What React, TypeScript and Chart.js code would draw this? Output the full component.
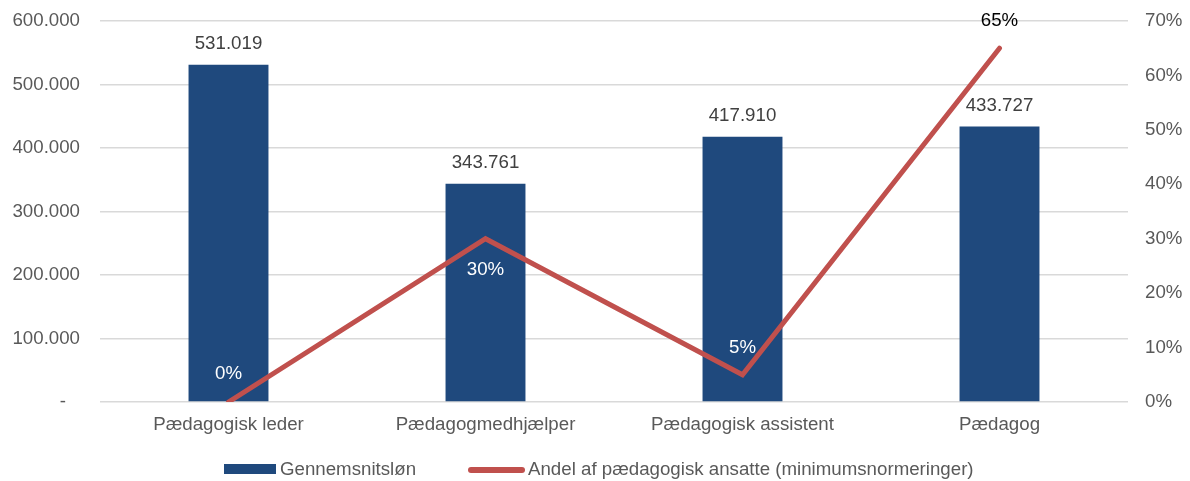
import React, { useEffect, useRef } from "react";
import { Chart, registerables } from "chart.js";

Chart.register(...registerables);

const categories = ["Pædagogisk leder", "Pædagogmedhjælper", "Pædagogisk assistent", "Pædagog"];
const salaryValues = [531019, 343761, 417910, 433727];
const shareValues = [0, 30, 5, 65];
const shareLabelOffsets = [-28, 31, -27, -27];
const shareLabelColors = ["#FFFFFF", "#FFFFFF", "#FFFFFF", "#000000"];
const salaryLabel = "Gennemsnitsløn";
const shareLabel = "Andel af pædagogisk ansatte (minimumsnormeringer)";

const BLUE = "#1F497D";
const RED = "#C0504D";
const TICK = "#595959";
const FONT = "'Liberation Sans', Arial, sans-serif";
const FS = 18.7;

function fmtThousands(v: number): string {
  return Math.round(v)
    .toString()
    .replace(/\B(?=(\d{3})+(?!\d))/g, ".");
}

const labelsPlugin = {
  id: "customLabels",
  afterDatasetsDraw(chart: any) {
    const ctx = chart.ctx;
    ctx.save();
    ctx.font = `${FS}px ${FONT}`;
    ctx.textAlign = "center";
    ctx.textBaseline = "middle";
    const barMeta = chart.getDatasetMeta(0);
    barMeta.data.forEach((el: any, i: number) => {
      ctx.fillStyle = "#404040";
      ctx.fillText(fmtThousands(salaryValues[i]), el.x, el.y - 21);
    });
    const lineMeta = chart.getDatasetMeta(1);
    lineMeta.data.forEach((el: any, i: number) => {
      ctx.fillStyle = shareLabelColors[i];
      ctx.fillText(shareValues[i] + "%", el.x, el.y + shareLabelOffsets[i]);
    });
    ctx.restore();
  },
  afterDraw(chart: any) {
    const ctx = chart.ctx;
    ctx.save();
    ctx.font = `${FS}px ${FONT}`;
    ctx.textBaseline = "middle";
    ctx.textAlign = "left";
    const y = 470;
    ctx.fillStyle = BLUE;
    ctx.fillRect(224, 464, 52, 10);
    ctx.fillStyle = TICK;
    ctx.fillText(salaryLabel, 280, y);
    ctx.strokeStyle = RED;
    ctx.lineWidth = 6;
    ctx.lineCap = "round";
    ctx.beginPath();
    ctx.moveTo(471, y);
    ctx.lineTo(522, y);
    ctx.stroke();
    ctx.fillStyle = TICK;
    ctx.fillText(shareLabel, 528, y);
    ctx.restore();
  },
};

export default function App() {
  const ref = useRef<HTMLCanvasElement | null>(null);

  useEffect(() => {
    document.body.style.margin = "0";
    if (!ref.current) return;
    const chart = new Chart(ref.current, {
      type: "bar",
      data: {
        labels: categories,
        datasets: [
          {
            type: "bar",
            label: salaryLabel,
            data: salaryValues,
            backgroundColor: BLUE,
            yAxisID: "y",
            categoryPercentage: 1,
            barPercentage: 0.311,
            order: 1,
          },
          {
            type: "line",
            label: shareLabel,
            data: shareValues,
            borderColor: RED,
            backgroundColor: RED,
            borderWidth: 5,
            pointRadius: 0,
            borderCapStyle: "round",
            borderJoinStyle: "miter",
            tension: 0,
            yAxisID: "y1",
            order: 0,
          },
        ],
      } as any,
      options: {
        responsive: false,
        animation: false,
        layout: { padding: { top: 21, left: 0, right: 0, bottom: 0 } },
        plugins: {
          legend: { display: false },
          tooltip: { enabled: false },
        },
        scales: {
          x: {
            grid: { display: false, drawTicks: false },
            border: { display: false },
            ticks: {
              color: TICK,
              font: { family: FONT, size: FS },
              padding: 12,
              maxRotation: 0,
              autoSkip: false,
            },
            afterFit(scale: any) {
              scale.height = 79;
            },
          },
          y: {
            position: "left",
            min: 0,
            max: 600000,
            grid: {
              color: "#D9D9D9",
              lineWidth: 1.5,
              drawTicks: true,
              tickLength: 20,
              tickColor: "rgba(0,0,0,0)",
            },
            border: { display: false },
            ticks: {
              stepSize: 100000,
              color: TICK,
              font: { family: FONT, size: FS },
              padding: 0,
              callback: (v: any) => (Number(v) === 0 ? "-  \u2009" : fmtThousands(Number(v))),
            },
            afterFit(scale: any) {
              scale.width = 100;
            },
          },
          y1: {
            position: "right",
            min: 0,
            max: 70,
            grid: {
              display: true,
              drawOnChartArea: false,
              drawTicks: true,
              tickLength: 17,
              tickColor: "rgba(0,0,0,0)",
            },
            border: { display: false },
            ticks: {
              stepSize: 10,
              color: TICK,
              font: { family: FONT, size: FS },
              padding: 0,
              callback: (v: any) => v + "%",
            },
            afterFit(scale: any) {
              scale.width = 62;
            },
          },
        },
      } as any,
      plugins: [labelsPlugin],
    });
    return () => chart.destroy();
  }, []);

  return <canvas ref={ref} width={1190} height={481} style={{ display: "block" }} />;
}
